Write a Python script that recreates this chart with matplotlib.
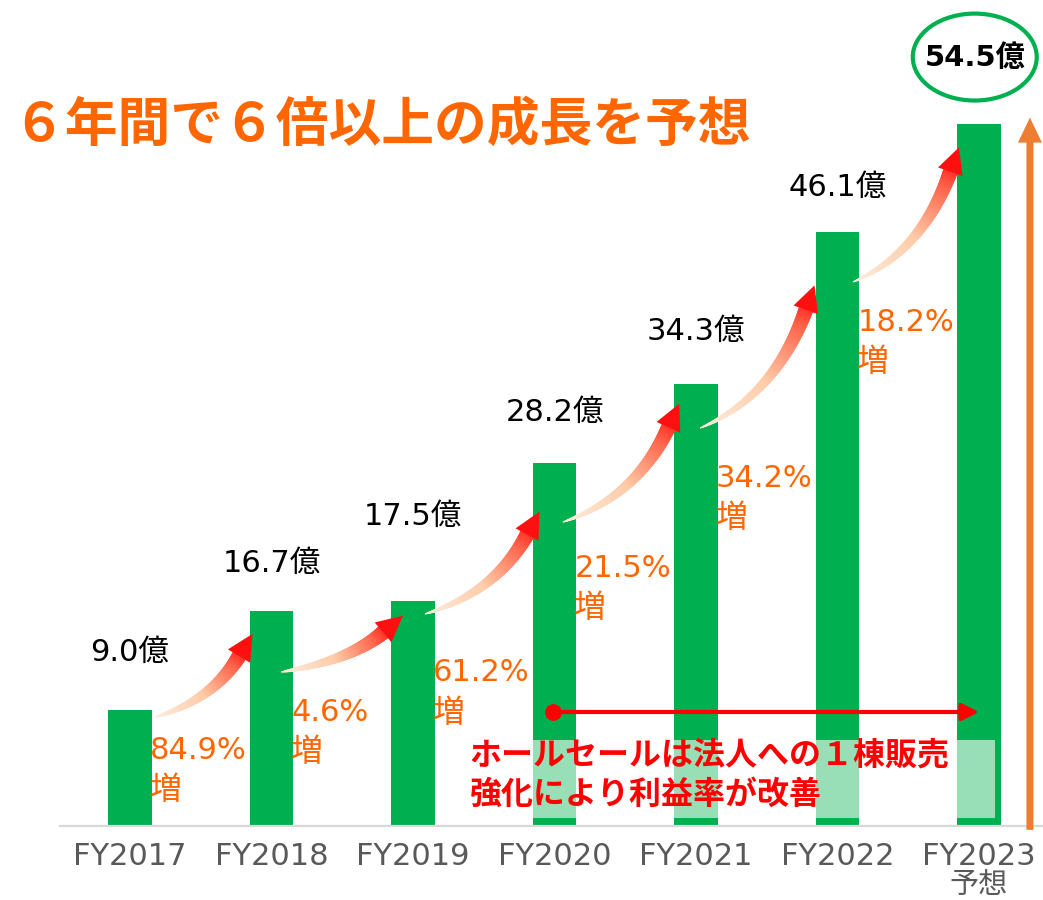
import matplotlib
matplotlib.use('Agg')
import matplotlib.pyplot as plt
from matplotlib.patches import Ellipse, Polygon, Rectangle
from matplotlib.collections import PolyCollection
from matplotlib.colors import LinearSegmentedColormap
import numpy as np

plt.rcParams['font.family'] = ['Noto Sans CJK JP', 'DejaVu Sans']
LATIN = ['DejaVu Sans', 'Noto Sans CJK JP']   # wide digits, CJK fallback

# data
years = ['FY2017', 'FY2018', 'FY2019', 'FY2020', 'FY2021', 'FY2022', 'FY2023']
sales = [9.0, 16.7, 17.5, 28.2, 34.3, 46.1, 54.5]
sales_labels = ['9.0億', '16.7億', '17.5億', '28.2億', '34.3億', '46.1億', '54.5億']
growth_labels = ['84.9%', '4.6%', '61.2%', '21.5%', '34.2%', '18.2%']

# layout tweaks (in value units / bar index units)
label_gap = [4.5, 3.7, 6.5, 3.9, 4.1, 3.5]
growth_drop = [3.1, 7.85, 5.6, 8.2, 7.3, 7.0]
arr_start_dx = [0.18, 0.07, 0.085, 0.06, 0.03, 0.11]
arr_start_dy = [-0.54, -4.74, -1.04, -4.6, -3.4, -3.86]
arr_tip_dx = [-0.15, -0.09, -0.12, -0.13, -0.17, -0.15]
arr_tip_dy = [-1.7, -1.0, -3.75, -1.5, -4.1, -1.8]

GREEN = '#00B050'
ORANGE = '#FF6600'
GREY = '#595959'

W, H = 1043, 900
SX, SY = 141.5, 12.88          # pixels per bar index / per 1億
X0, Y0 = 130, 826              # pixel of first bar centre / baseline

fig = plt.figure(figsize=(W / 100, H / 100), dpi=100)
ax = fig.add_axes([0, 0, 1, 1])
ax.set_xlim(-X0 / SX, (W - X0) / SX)
ax.set_ylim(-(H - Y0) / SY, Y0 / SY)
ax.axis('off')

x = np.arange(len(years))
ax.bar(x, sales, width=0.31, color=GREEN, zorder=2)

# baseline
ax.plot([-70 / SX, ax.get_xlim()[1]], [0, 0], color='#D9D9D9', lw=1.6, zorder=3)

# faded box over the bottom of FY2020-FY2023
ax.add_patch(Rectangle((3 - 0.166, 0.62), 3.28, 6.06, facecolor='white',
                       alpha=0.6, edgecolor='none', zorder=4))

# value labels
for i in range(len(years) - 1):
    ax.text(i, sales[i] + label_gap[i], sales_labels[i], ha='center', va='center',
            fontsize=22, color='black', family=LATIN, zorder=6)

# growth labels: percentage line, then 増 below
for i, g in enumerate(growth_labels):
    y1 = sales[i] - growth_drop[i]
    ax.text(i + 0.14, y1, g, ha='left', va='center',
            fontsize=22, color=ORANGE, family=LATIN, zorder=6)
    ax.text(i + 0.14, y1 - 3.1, '増', ha='left', va='center',
            fontsize=23, color=ORANGE, zorder=6)

# tick labels
for i, yr in enumerate(years):
    ax.text(i, -2.33, yr, ha='center', va='center', fontsize=22, color=GREY,
            family=LATIN)
ax.text(len(years) - 1, -4.6, '予想', ha='center', va='center', fontsize=21, color=GREY)


def to_px(p):
    return np.array([p[0] * SX, p[1] * SY])


def from_px(p):
    p = np.atleast_2d(p)
    return np.column_stack([p[:, 0] / SX, p[:, 1] / SY])


cmap = LinearSegmentedColormap.from_list('arr', [
    (0.0, (0.99, 0.93, 0.88)),
    (0.45, (1.0, 0.80, 0.66)),
    (0.8, (1.0, 0.40, 0.30)),
    (1.0, (1.0, 0.05, 0.05)),
])


def grad_arrow(p0, p2, head_len=26, head_hw=13, body_hw=7):
    a, c = to_px(p0), to_px(p2)
    d = c - a
    b = a + np.array([0.75 * d[0], 0.25 * d[1]])
    t = np.linspace(0, 1, 300)[:, None]
    pts = (1 - t) ** 2 * a + 2 * (1 - t) * t * b + t ** 2 * c
    seg = np.linalg.norm(np.diff(pts, axis=0), axis=1)
    s = np.concatenate([[0], np.cumsum(seg)])
    L = s[-1]
    nb = np.searchsorted(s, L - head_len)
    body = pts[:nb + 1]
    tang = np.gradient(body, axis=0)
    tang /= np.linalg.norm(tang, axis=1)[:, None]
    nrm = np.column_stack([-tang[:, 1], tang[:, 0]])
    frac = s[:nb + 1] / s[nb]
    hw = body_hw * frac ** 0.7
    left = body + nrm * hw[:, None]
    right = body - nrm * hw[:, None]
    polys, cols = [], []
    for k in range(len(body) - 1):
        q = np.array([left[k], left[k + 1], right[k + 1], right[k]])
        polys.append(from_px(q))
        cols.append(cmap(frac[k] * 0.9))
    ax.add_collection(PolyCollection(polys, facecolors=cols, edgecolors=cols,
                                     linewidths=0.6, zorder=5))
    base = body[-1]
    tg, nm = tang[-1], nrm[-1]
    tri = np.array([base + nm * head_hw, base + tg * head_len, base - nm * head_hw])
    ax.add_patch(Polygon(from_px(tri), closed=True, facecolor='#FF1010',
                         edgecolor='none', zorder=5))


for i in range(len(sales) - 1):
    grad_arrow((i + arr_start_dx[i], sales[i] + arr_start_dy[i]),
               (i + 1 + arr_tip_dx[i], sales[i + 1] + arr_tip_dy[i]))

# orange arrow on the right
ox = 6.36
shaft_hw, h_hw, h_len = 3.5, 12, 25
bot = to_px((ox, -0.3))
tip = to_px((ox, sales[-1] + 0.5))
shape = np.array([
    [bot[0] - shaft_hw, bot[1]], [bot[0] + shaft_hw, bot[1]],
    [bot[0] + shaft_hw, tip[1] - h_len], [bot[0] + h_hw, tip[1] - h_len],
    [bot[0], tip[1]], [bot[0] - h_hw, tip[1] - h_len],
    [bot[0] - shaft_hw, tip[1] - h_len],
])
ax.add_patch(Polygon(from_px(shape), closed=True, facecolor='#ED7D31',
                     edgecolor='none', zorder=5))

# top value in an ellipse
ax.add_patch(Ellipse((5.97, 59.7), 0.876, 6.75, facecolor='white', edgecolor=GREEN,
                     lw=3, zorder=6))
ax.text(5.97, 59.6, sales_labels[-1], ha='center', va='center', fontsize=21,
        fontweight='bold', color='black', family=LATIN, zorder=7)

# red note arrow
ax.plot([2.99, 5.95], [8.85, 8.85], color='#FF0000', lw=3, zorder=6,
        solid_capstyle='butt')
ax.plot([2.99], [8.85], 'o', color='#FF0000', ms=11, zorder=6)
ax.annotate('', xy=(6.02, 8.85), xytext=(5.85, 8.85),
            arrowprops=dict(arrowstyle='-|>,head_length=1.0,head_width=0.5',
                            color='#FF0000', lw=3), zorder=6)
ax.text(2.40, 5.5, 'ホールセールは法人への１棟販売', ha='left',
        va='center', fontsize=23, fontweight='bold', color='#FF0000', zorder=7)
ax.text(2.40, 2.4, '強化により利益率が改善', ha='left',
        va='center', fontsize=23, fontweight='bold', color='#FF0000', zorder=7)

# title
fig.text(12 / W, 1 - 125 / H, '６年間で６倍以上の成長を予想', ha='left', va='center',
         fontsize=38, fontweight='bold', color=ORANGE)

fig.savefig('out.png', dpi=100)
